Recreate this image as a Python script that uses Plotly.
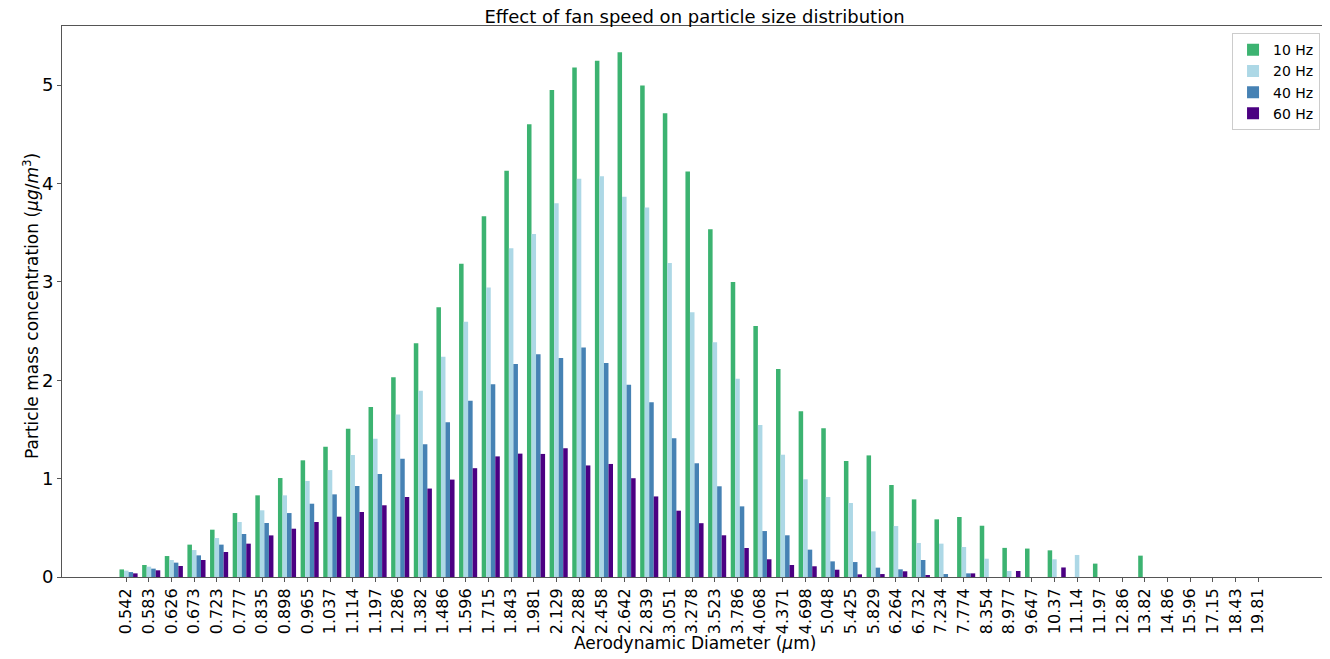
import plotly.graph_objects as go

categories = ["0.542", "0.583", "0.626", "0.673", "0.723", "0.777", "0.835", "0.898", "0.965",
              "1.037", "1.114", "1.197", "1.286", "1.382", "1.486", "1.596", "1.715", "1.843",
              "1.981", "2.129", "2.288", "2.458", "2.642", "2.839", "3.051", "3.278", "3.523",
              "3.786", "4.068", "4.371", "4.698", "5.048", "5.425", "5.829", "6.264", "6.732",
              "7.234", "7.774", "8.354", "8.977", "9.647", "10.37", "11.14", "11.97", "12.86",
              "13.82", "14.86", "15.96", "17.15", "18.43", "19.81"]

hz10 = [0.077, 0.122, 0.213, 0.329, 0.481, 0.650, 0.830, 1.006, 1.186, 1.324, 1.507, 1.728,
        2.030, 2.376, 2.743, 3.185, 3.668, 4.129, 4.601, 4.949, 5.178, 5.247, 5.334, 4.996,
        4.713, 4.122, 3.534, 2.998, 2.551, 2.114, 1.684, 1.511, 1.179, 1.236, 0.935, 0.789,
        0.586, 0.610, 0.521, 0.296, 0.289, 0.271, 0.0, 0.136, 0.0, 0.217, 0.0, 0.0, 0.0, 0.0, 0.0]
hz20 = [0.065, 0.105, 0.173, 0.274, 0.396, 0.559, 0.678, 0.830, 0.976, 1.087, 1.240, 1.406,
        1.653, 1.893, 2.238, 2.594, 2.942, 3.341, 3.487, 3.799, 4.049, 4.074, 3.864, 3.755,
        3.192, 2.692, 2.387, 2.016, 1.545, 1.243, 0.993, 0.813, 0.752, 0.464, 0.518, 0.346,
        0.339, 0.305, 0.186, 0.061, 0.0, 0.180, 0.224, 0.0, 0.0, 0.0, 0.0, 0.0, 0.0, 0.0, 0.0]
hz40 = [0.050, 0.085, 0.146, 0.220, 0.329, 0.437, 0.549, 0.650, 0.745, 0.840, 0.925, 1.047,
        1.202, 1.349, 1.574, 1.792, 1.959, 2.166, 2.263, 2.227, 2.332, 2.176, 1.955, 1.777,
        1.411, 1.156, 0.922, 0.718, 0.467, 0.424, 0.278, 0.159, 0.152, 0.095, 0.078, 0.173,
        0.030, 0.037, 0.0, 0.0, 0.0, 0.0, 0.0, 0.0, 0.0, 0.0, 0.0, 0.0, 0.0, 0.0, 0.0]
hz60 = [0.037, 0.068, 0.112, 0.173, 0.254, 0.339, 0.423, 0.491, 0.559, 0.613, 0.661, 0.729,
        0.813, 0.899, 0.990, 1.106, 1.226, 1.254, 1.251, 1.309, 1.134, 1.149, 1.004, 0.819,
        0.674, 0.547, 0.424, 0.295, 0.180, 0.122, 0.109, 0.074, 0.027, 0.030, 0.058, 0.020,
        0.0, 0.037, 0.0, 0.061, 0.0, 0.097, 0.0, 0.0, 0.0, 0.0, 0.0, 0.0, 0.0, 0.0, 0.0]

series_names = ["10 Hz", "20 Hz", "40 Hz", "60 Hz"]
series_values = [hz10, hz20, hz40, hz60]
colors = ["#3CB371", "#ADD8E6", "#4682B4", "#4B0082"]
offsets = [-0.3, -0.1, 0.1, 0.3]

FONT = "DejaVu Sans"
# the page body adds an 8px margin, so the figure is drawn 8px in from the top-left
W, H = 1322, 651
ML, MR, MT, MB = 54, 3, 18, 82
PW, PH = W - ML - MR, H - MT - MB

fig = go.Figure()
for name, vals, col, off in zip(series_names, series_values, colors, offsets):
    fig.add_trace(go.Bar(x=categories, y=vals, name=name, width=0.2, offset=off,
                         marker=dict(color=col, line=dict(width=0)), opacity=1))

ymax = max(max(s) for s in series_values) * 1.05
n = len(categories)
span = (n - 1) + 0.6 + 0.2
xlo = -0.3 - 0.05 * span
xhi = (n - 1) + 0.5 + 0.05 * span

fig.update_layout(
    width=W, height=H,
    barmode="overlay",
    paper_bgcolor="white", plot_bgcolor="white",
    margin=dict(l=ML, r=MR, t=MT, b=MB, autoexpand=False),
    font=dict(family=FONT, color="#000000"),
    title=dict(text="Effect of fan speed on particle size distribution",
               x=0.5, xref="paper", xanchor="center",
               y=1 - 2 / H, yref="container", yanchor="top", pad=dict(t=0, b=0),
               font=dict(size=18, family=FONT, color="#000")),
    showlegend=True,
    legend=dict(x=0.9945, y=0.987, xanchor="right", yanchor="top",
                bgcolor="rgba(255,255,255,0.8)", bordercolor="#cccccc", borderwidth=1,
                font=dict(size=14, family=FONT, color="#000")),
    xaxis=dict(type="category", range=[xlo, xhi], tickangle=-90, automargin=False,
               tickfont=dict(size=16, family=FONT, color="#000"),
               ticks="outside", ticklen=4, tickcolor="#555", tickwidth=1,
               showline=True, linecolor="#555", linewidth=1, mirror=True,
               showgrid=False, zeroline=False),
    yaxis=dict(range=[0, ymax], tickvals=[0, 1, 2, 3, 4, 5], automargin=False,
               tickfont=dict(size=18, family=FONT, color="#000"),
               ticks="outside", ticklen=4, tickcolor="#555", tickwidth=1,
               showline=True, linecolor="#555", linewidth=1, mirror=True,
               showgrid=False, zeroline=False),
    annotations=[
        dict(text="Aerodynamic Diameter (<i>μ</i>m)", xref="paper", yref="paper",
             x=0.5, y=(MT + PH - 635) / PH, xanchor="center", yanchor="middle",
             showarrow=False, font=dict(size=17, family=FONT, color="#000")),
        dict(text="Particle mass concentration (<i>μg</i>/<i>m</i><sup>3</sup>)",
             xref="paper", yref="paper", x=(23 - ML) / PW, y=(MT + PH - 298) / PH,
             xanchor="center", yanchor="middle", textangle=-90,
             showarrow=False, font=dict(size=17, family=FONT, color="#000")),
    ],
)

fig.write_html("out.html")
